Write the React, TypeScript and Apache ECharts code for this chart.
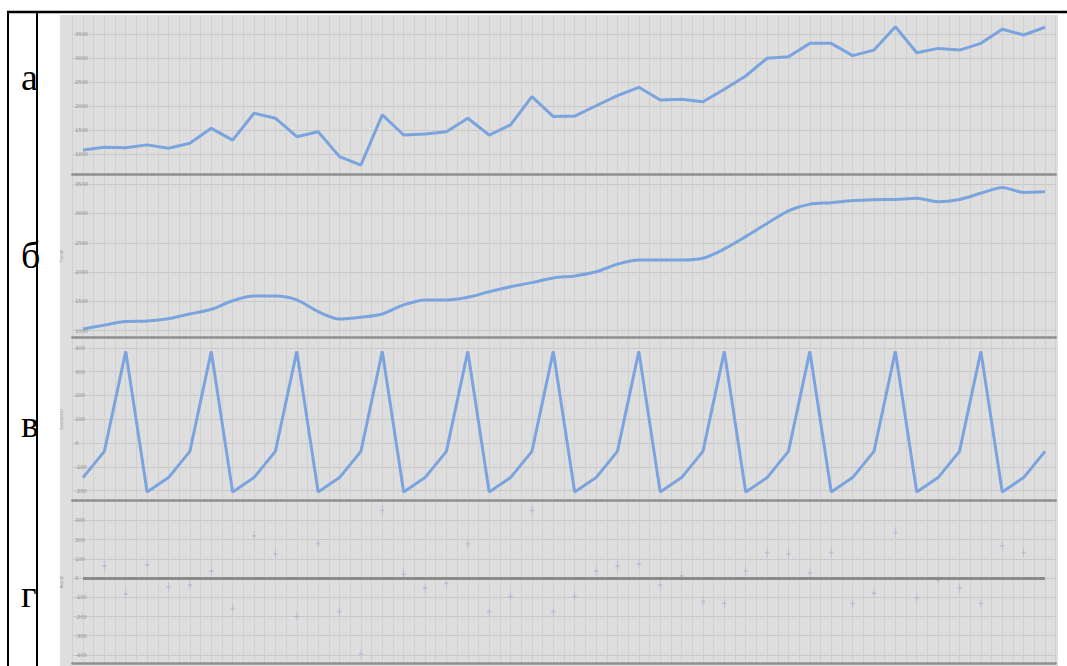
import React, { useEffect, useRef } from "react";
import * as echarts from "echarts";

// Row labels of the table (Cyrillic)
const rowLabels = ["а", "б", "в", "г"];

// Panel а: observed series (quarterly, 46 points)
const observed = [
  1085, 1140, 1130, 1190, 1120, 1225, 1535, 1290, 1850, 1745, 1360, 1465,
  945, 770, 1815, 1395, 1415, 1465, 1745, 1395, 1605, 2195, 1780, 1790,
  2005, 2215, 2390, 2125, 2140, 2090, 2350, 2625, 2995, 3025, 3305, 3305,
  3050, 3165, 3650, 3110, 3200, 3165, 3305, 3600, 3480, 3640,
];

// Panel б: trend
const trend = [
  1030, 1095, 1155, 1165, 1205, 1285, 1365, 1510, 1590, 1590, 1525, 1325,
  1200, 1230, 1285, 1440, 1525, 1525, 1570, 1665, 1750, 1820, 1900, 1935,
  2005, 2135, 2205, 2205, 2205, 2235, 2395, 2605, 2830, 3045, 3160, 3185,
  3220, 3235, 3240, 3260, 3200, 3240, 3345, 3445, 3360, 3370,
];

// Panel в: seasonal component
const seasonal = [
  -145, -35, 385, -205, -145, -35, 385, -205, -145, -35, 385, -205,
  -145, -35, 385, -205, -145, -35, 385, -205, -145, -35, 385, -205,
  -145, -35, 385, -205, -145, -35, 385, -205, -145, -35, 385, -205,
  -145, -35, 385, -205, -145, -35, 385, -205, -145, -35,
];

// Panel г: residuals (first and last missing)
const resid: (number | null)[] = [
  null, 63, -84, 68, -47, -37, 37, -158, 220, 126, -200, 180,
  -174, -395, 352, 21, -53, -26, 179, -174, -95, 352, -174, -95,
  37, 63, 74, -37, 11, -121, -132, 37, 132, 126, 26, 132,
  -132, -79, 237, -105, -10, -53, -132, 168, 132, null,
];

// Axis names and y extents per panel
const axisNames = ["", "Trend", "Seasonal", "Resid"];
const yMin = [583, 892, -239, -442];
const yMax = [3896, 3640, 437, 396];
const yStep = [500, 500, 100, 100];

const LINE_COLOR = "#7ba4de";

export default function App() {
  const ref = useRef<HTMLDivElement>(null);

  useEffect(() => {
    if (!ref.current) return;
    const chart = echarts.init(ref.current, undefined, { renderer: "svg" });

    const tops = [15, 176, 339, 502];
    const heights = [159, 161, 161, 161];
    const gridLeft = 72.3;
    const gridRight = 11.3;

    const grids = tops.map((t, k) => ({
      left: gridLeft,
      right: gridRight,
      top: t,
      height: heights[k],
      show: false,
    }));

    const xAxes = tops.map((_, k) => ({
      type: "value",
      gridIndex: k,
      min: -0.5,
      max: 45.5,
      interval: 0.5,
      axisLabel: { show: false },
      axisTick: { show: false },
      axisLine: {
        show: true,
        onZero: false,
        lineStyle: { color: "#8f8f8f", width: 2.5, type: [5, 1.5] },
      },
      splitLine: { show: true, lineStyle: { color: "#d0d0d0", width: 1 } },
    }));

    const yAxes = tops.map((_, k) => ({
      type: "value",
      gridIndex: k,
      min: yMin[k],
      max: yMax[k],
      minInterval: yStep[k],
      maxInterval: yStep[k],
      splitNumber: 8,
      name: axisNames[k],
      nameLocation: "middle",
      nameRotate: 90,
      nameGap: 1,
      nameTextStyle: { fontSize: 4.5, color: "#9a9a9a", fontFamily: "DejaVu Sans" },
      axisLine: { show: false },
      axisTick: { show: false },
      axisLabel: {
        inside: true,
        margin: 3,
        fontSize: 5,
        color: "#8c8c8c",
        fontFamily: "DejaVu Sans",
        showMinLabel: false,
        showMaxLabel: false,
        formatter: (v: number) => String(v),
      },
      splitLine: {
        show: true,
        showMinLine: false,
        showMaxLine: false,
        lineStyle: { color: "#c8c8c8", width: 1 },
      },
    }));

    const lineSeries = (data: number[], k: number, smooth: boolean | number) => ({
      type: "line",
      xAxisIndex: k,
      yAxisIndex: k,
      data: data.map((v, i) => [i, v]),
      showSymbol: false,
      smooth,
      lineStyle: { color: LINE_COLOR, width: 3 },
      itemStyle: { color: LINE_COLOR },
      z: 3,
    });

    const residData = resid
      .map((v, i) => (v == null ? null : [i, v]))
      .filter((d) => d !== null);

    const labelY = [77, 255, 424, 594];

    const graphic: any[] = [
      {
        type: "rect",
        shape: { x: 60, y: 15, width: 998, height: 651 },
        style: { fill: "#dedede" },
        z: -100,
      },
      {
        type: "line",
        shape: { x1: 7, y1: 12, x2: 1067, y2: 12 },
        style: { stroke: "#000", lineWidth: 2.5 },
        z: 100,
      },
      {
        type: "line",
        shape: { x1: 8, y1: 11, x2: 8, y2: 666 },
        style: { stroke: "#000", lineWidth: 2 },
        z: 100,
      },
      {
        type: "line",
        shape: { x1: 37, y1: 11, x2: 37, y2: 666 },
        style: { stroke: "#000", lineWidth: 2 },
        z: 100,
      },
      ...rowLabels.map((t, k) => ({
        type: "text",
        x: 21,
        y: labelY[k],
        z: 100,
        style: {
          text: t,
          fontFamily: "Liberation Serif",
          fontSize: 38,
          fill: "#000",
          textAlign: "left",
          textVerticalAlign: "middle",
        },
      })),
    ];

    const option: any = {
      animation: false,
      backgroundColor: "#ffffff",
      grid: grids,
      xAxis: xAxes,
      yAxis: yAxes,
      graphic,
      series: [
        lineSeries(observed, 0, false),
        lineSeries(trend, 1, 0.3),
        lineSeries(seasonal, 2, false),
        {
          type: "scatter",
          xAxisIndex: 3,
          yAxisIndex: 3,
          data: residData,
          symbol: "path://M2,0H3V10H2ZM0,4H5V6H0Z",
          symbolSize: [4, 9],
          itemStyle: { color: "rgba(120,150,210,0.45)" },
          z: 3,
          markLine: {
            silent: true,
            symbol: "none",
            label: { show: false },
            lineStyle: { color: "#8a8a8a", width: 3, type: "solid" },
            data: [[{ coord: [0, 0] }, { coord: [45, 0] }]],
          },
        },
      ],
    };

    chart.setOption(option);
    return () => chart.dispose();
  }, []);

  return (
    <div
      ref={ref}
      style={{ position: "absolute", left: 0, top: 0, width: 1067, height: 666 }}
    />
  );
}
